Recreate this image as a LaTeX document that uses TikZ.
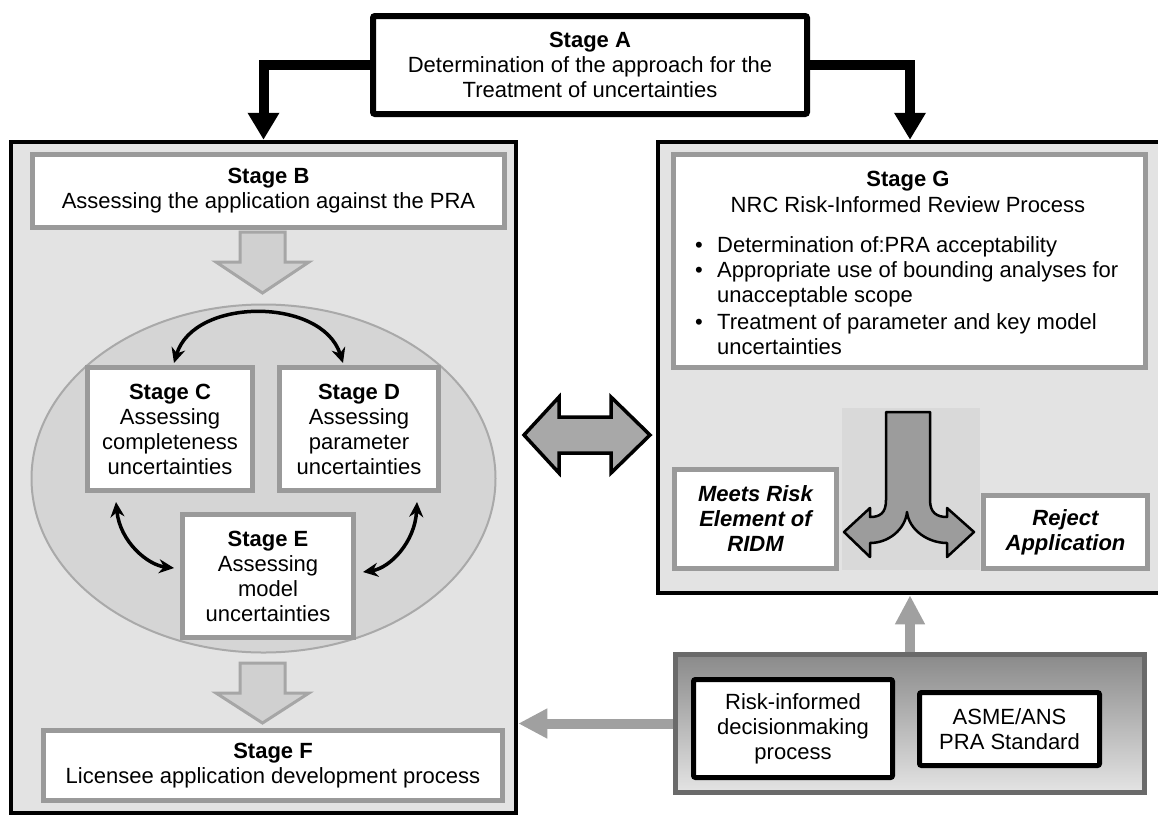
\documentclass[tikz,border=0pt]{standalone}
\usepackage{fontspec}
\setmainfont{Liberation Sans}
\usetikzlibrary{arrows.meta,shapes.geometric,calc}

\definecolor{panelfill}{HTML}{E3E3E3}
\definecolor{ringfill}{HTML}{D5D5D5}
\definecolor{ringdraw}{HTML}{A9A9A9}
\definecolor{boxgray}{HTML}{9A9A9A}
\definecolor{arrowgray}{HTML}{A0A0A0}
\definecolor{blockfill}{HTML}{D0D0D0}
\definecolor{blockdraw}{HTML}{A6A6A6}
\definecolor{swapfill}{HTML}{A8A8A8}
\definecolor{forkbg}{HTML}{D9D9D9}
\definecolor{forkfill}{HTML}{9C9C9C}
\definecolor{basedraw}{HTML}{6A6A6A}
\definecolor{basetop}{HTML}{8A8A8A}
\definecolor{basebottom}{HTML}{E4E4E4}

\begin{document}
\begin{tikzpicture}[x=1pt,y=-1pt,
  txt/.style={font=\fontsize{22}{25}\selectfont, align=center},
  graybox/.style={draw=boxgray, line width=5pt, fill=white, inner sep=0pt, txt},
  blackbox/.style={draw=black, line width=5pt, fill=white, rounded corners=2pt, inner sep=0pt, txt},
  panel/.style={draw=black, line width=4.5pt, fill=panelfill, inner sep=0pt},
  feed/.style={line width=10pt, line join=miter, -{Triangle[width=30pt,length=27pt]}},
  link/.style={draw=arrowgray, line width=10pt, -{Triangle[width=28pt,length=29pt]}},
  swap/.style={line width=3.5pt, {Stealth[length=15pt,width=14pt]}-{Stealth[length=15pt,width=14pt]}},
  blockdown/.style={fill=blockfill, draw=blockdraw, line width=3pt, line join=miter},
  gline/.style={font=\fontsize{22}{25}\selectfont, anchor=base west, inner sep=0pt},
]
\useasboundingbox (0,0) rectangle (1158,817);
\clip (0,0) rectangle (1158,817);

% the two large panels
\node[panel, minimum width=505pt, minimum height=671pt] (L) at (263.5,477.5) {};
\node[panel, minimum width=512pt, minimum height=451pt] (Gp) at (914,367.5) {};

% Stage A and the two feeds
\node[blackbox, line width=6pt, minimum width=434pt, minimum height=98pt] (A) at (590,65)
  {\textbf{Stage A}\\Determination of the approach for the\\Treatment of uncertainties};
\draw[feed] (A.west) -| (L.north);
\draw[feed] (A.east) -| ([xshift=-4pt]Gp.north);

% left panel contents
\node[graybox, minimum width=472pt, minimum height=73pt] (B) at (268.5,191)
  {\textbf{Stage B}\\Assessing the application against the PRA};
\draw[blockdown] (240,232) -- (285,232) -- (285,262) -- (309,262) -- (262.5,293)
  -- (216,262) -- (240,262) -- cycle;

\node[ellipse, draw=ringdraw, line width=2pt, fill=ringfill,
  minimum width=464pt, minimum height=348pt, inner sep=0pt] (ring) at (263.5,478.5) {};

\node[graybox, minimum width=165pt, minimum height=123pt] (C) at (170,429)
  {\textbf{Stage C}\\Assessing\\completeness\\uncertainties};
\node[graybox, minimum width=159pt, minimum height=123pt] (D) at (359,429)
  {\textbf{Stage D}\\Assessing\\parameter\\uncertainties};
\node[graybox, minimum width=171pt, minimum height=123pt] (E) at (268,576)
  {\textbf{Stage E}\\Assessing\\model\\uncertainties};

\draw[swap] ($(C.north)+(4,-2)$) .. controls +(20,-66) and +(-21,-66) .. ($(D.north)+(-16,-2)$);
\draw[swap] ($(C.south west)+(31,9)$) .. controls +(4,40) and +(-26,-3) .. ($(E.west)+(-6,-8)$);
\draw[swap] ($(D.south east)+(-24,9)$) .. controls +(-2,40) and +(27,-4) .. ($(E.east)+(7,-4)$);

\draw[blockdown] (240,663) -- (285,663) -- (285,693) -- (309,693) -- (262.5,723)
  -- (216,693) -- (240,693) -- cycle;
\node[graybox, minimum width=459pt, minimum height=70pt] (F) at (273,765.5)
  {\textbf{Stage F}\\Licensee application development process};

% exchange between the panels
\draw[fill=swapfill, draw=black, line width=3.5pt, line join=miter]
  (524,435) -- (559,397) -- (559,417) -- (611,417) -- (611,397) -- (650,435)
  -- (611,473) -- (611,453) -- (559,453) -- (559,473) -- cycle;

% right panel contents
\node[graybox, minimum width=472pt, minimum height=213pt] (G) at (909.5,261) {};
\node[font=\fontsize{22}{25}\selectfont\bfseries, anchor=base, inner sep=0pt] (g0) at (908,186) {Stage G};
\node[font=\fontsize{22}{25}\selectfont, anchor=base, inner sep=0pt] (g1) at (908,212) {NRC Risk-Informed Review Process};
\node[gline] (b1) at (695,252) {•};
\node[gline] (b2) at (695,277) {•};
\node[gline] (b3) at (695,329) {•};
\node[gline] (t1) at (717,252) {Determination of:PRA acceptability};
\node[gline] (t2) at (717,277) {Appropriate use of bounding analyses for};
\node[gline] (t3) at (717,302) {unacceptable scope};
\node[gline] (t4) at (717,329) {Treatment of parameter and key model};
\node[gline] (t5) at (717,354) {uncertainties};

\node[graybox, minimum width=162pt, minimum height=99pt, font=\fontsize{22}{25}\selectfont\bfseries\itshape] (M) at (755.5,519)
  {Meets Risk\\Element of\\RIDM};
\node[graybox, minimum width=164pt, minimum height=73pt, font=\fontsize{22}{25}\selectfont\bfseries\itshape] (X) at (1065.5,532)
  {Reject\\Application};

% decision fork
\fill[forkbg] (842,408) rectangle (980,570);
\draw[fill=forkfill, draw=black, line width=2.5pt, line join=round]
  (886,412) -- (930,412) -- (930,500)
  .. controls (930,513) and (937,517) .. (947,517)
  -- (947,508) -- (974,532) -- (947,557) -- (947,543)
  .. controls (928,543) and (909,530) .. (907,512)
  .. controls (905,530) and (888,543) .. (870,543)
  -- (870,557) -- (844,532) -- (870,508) -- (870,517)
  .. controls (880,517) and (886,513) .. (886,500)
  -- cycle;

% inputs at the bottom right
\node[draw=basedraw, line width=5pt, top color=basetop, bottom color=basebottom, inner sep=0pt,
  minimum width=469pt, minimum height=138pt] (R) at (910,723.5) {};
\node[blackbox, minimum width=199pt, minimum height=98pt] (RI) at (793,728.5)
  {Risk-informed\\decisionmaking\\process};
\node[blackbox, minimum width=180pt, minimum height=73pt] (AS) at (1009.5,729)
  {ASME/ANS\\PRA Standard};

\draw[link] (R.north) -- (R.north |- Gp.south);
\draw[link] (R.west) -- (R.west -| L.east);
\end{tikzpicture}
\end{document}
